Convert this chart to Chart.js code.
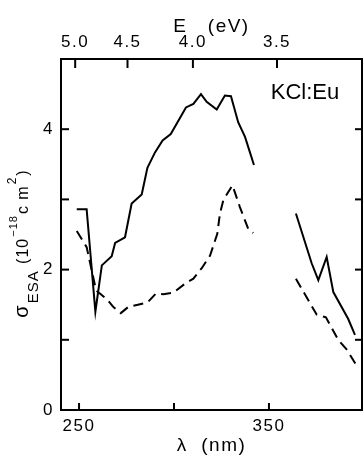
<!DOCTYPE html>
<html>
<head>
<meta charset="utf-8">
<script src="https://cdn.jsdelivr.net/npm/chart.js@4.4.0/dist/chart.umd.min.js"></script>
<style>
  html, body { margin: 0; padding: 0; background: #fff; }
  #wrap { width: 363px; height: 458px; }
</style>
</head>
<body>
<div id="wrap"><canvas id="esa" width="363" height="458"></canvas></div>
<script>
// Sigma_ESA spectra for KCl:Eu; both traces have a gap between ~342 and ~364 nm
const solidWlA = [248.8, 254, 258.6, 262, 267.2, 269, 274.2, 277.7, 283, 286, 290, 294, 298.3, 306.3, 310.2, 314.2, 317.2, 322.5, 326.8, 330, 333.8, 337.4, 340, 342.1];
const solidValA = [2.86, 2.86, 1.40, 2.06, 2.19, 2.38, 2.46, 2.94, 3.07, 3.45, 3.67, 3.84, 3.93, 4.31, 4.36, 4.50, 4.39, 4.28, 4.48, 4.47, 4.10, 3.89, 3.67, 3.49];
const solidWlB = [364.2, 372.5, 376, 380.4, 383.9, 391.7, 395.3];
const solidValB = [2.80, 2.09, 1.85, 2.18, 1.68, 1.30, 1.07];

const dashWlA = [248.8, 254, 259, 261, 265, 268, 272, 276, 281, 286, 290.5, 294.4, 299.6, 305.8, 310.2, 314.6, 319, 322.8, 324.2, 326, 328, 330.8, 334.7, 339.1, 341.7];
const dashValA = [2.55, 2.32, 1.70, 1.66, 1.57, 1.47, 1.38, 1.47, 1.50, 1.53, 1.66, 1.65, 1.67, 1.80, 1.87, 2.02, 2.20, 2.51, 2.80, 2.99, 3.08, 3.20, 2.89, 2.58, 2.52];
const dashWlB = [364.2, 375.1, 380, 386.5, 391, 396.2];
const dashValB = [1.87, 1.36, 1.32, 1.00, 0.86, 0.63];

// axis ticks
const lambdaTicks = [250, 300, 350];
const lambdaLabels = ['250', '', '350'];
const energyTicks = [5.0, 4.5, 4.0, 3.5];
const sigmaTicks = [0, 1, 2, 3, 4];
const sigmaLabels = ['0', '', '2', '', '4'];

const HC = 1239.84; // eV * nm
const FONT = "'Liberation Sans', Arial, sans-serif";

function pts(wl, val) {
    return wl.map((w, i) => ({ x: w, y: val[i] }));
}

function line(ctx, x1, y1, x2, y2) {
    ctx.beginPath();
    ctx.moveTo(x1, y1);
    ctx.lineTo(x2, y2);
    ctx.stroke();
}

// wider letter spacing for the axis text
const spacing = {
    id: 'spacing',
    beforeDraw(chart) {
        chart.ctx.letterSpacing = '1.5px';
    }
};

// tick marks pointing into the plot on all four sides
const inwardTicks = {
    id: 'inwardTicks',
    afterDraw(chart) {
        const ctx = chart.ctx;
        const a = chart.chartArea;
        const s = chart.scales;
        ctx.save();
        ctx.strokeStyle = '#000';
        ctx.lineWidth = 2;
        lambdaTicks.forEach(v => {
            const px = s.x.getPixelForValue(v);
            line(ctx, px, a.bottom, px, a.bottom - 7);
        });
        energyTicks.forEach(e => {
            const px = s.x2.getPixelForValue(HC / e);
            line(ctx, px, a.top, px, a.top + 9);
        });
        [1, 2, 3, 4].forEach(v => {
            const py = s.y.getPixelForValue(v);
            line(ctx, a.left, py, a.left + 8, py);
            line(ctx, a.right, py, a.right - 7, py);
        });
        ctx.restore();
    }
};

// rotated y title with subscript and superscripts
const sigmaTitle = {
    id: 'sigmaTitle',
    afterDraw(chart) {
        const ctx = chart.ctx;
        const parts = [
            { t: 'σ', size: 20, dy: 0 },
            { t: 'ESA', size: 15, dy: 10 },
            { t: ' (10', size: 16, dy: 0 },
            { t: '−18', size: 11, dy: -11 },
            { t: 'c m', size: 16, dy: 0 },
            { t: '2', size: 12, dy: -12 },
            { t: ')', size: 16, dy: 0 }
        ];
        ctx.save();
        ctx.fillStyle = '#000';
        ctx.letterSpacing = '1px';
        ctx.textBaseline = 'alphabetic';
        let total = 0;
        parts.forEach(p => {
            ctx.font = p.size + 'px ' + FONT;
            p.w = ctx.measureText(p.t).width + 1;
            total += p.w;
        });
        ctx.translate(28, 243);
        ctx.rotate(-Math.PI / 2);
        let x = -total / 2;
        parts.forEach(p => {
            ctx.font = p.size + 'px ' + FONT;
            ctx.fillText(p.t, x, p.dy);
            x += p.w;
        });
        ctx.restore();
    }
};

const sampleLabel = {
    id: 'sampleLabel',
    afterDraw(chart) {
        const ctx = chart.ctx;
        ctx.save();
        ctx.fillStyle = '#000';
        ctx.letterSpacing = '0px';
        ctx.font = '22px ' + FONT;
        ctx.textAlign = 'center';
        ctx.textBaseline = 'middle';
        ctx.fillText('KCl:Eu', 305, 93);
        ctx.restore();
    }
};

const solidStyle = { borderColor: '#000', borderWidth: 2, pointRadius: 0, tension: 0, fill: false };
const dashStyle = Object.assign({}, solidStyle, { borderDash: [10, 6] });

const tickFont = { family: FONT, size: 17 };
const frame = { display: true, color: '#000', width: 2 };

new Chart(document.getElementById('esa'), {
    type: 'line',
    data: {
        datasets: [
            Object.assign({ data: pts(solidWlA, solidValA) }, solidStyle),
            Object.assign({ data: pts(solidWlB, solidValB) }, solidStyle),
            Object.assign({ data: pts(dashWlA, dashValA) }, dashStyle),
            Object.assign({ data: pts(dashWlB, dashValB) }, dashStyle)
        ]
    },
    options: {
        responsive: false,
        animation: false,
        layout: { padding: 0 },
        plugins: { legend: { display: false }, tooltip: { enabled: false } },
        scales: {
            x: {
                type: 'linear', position: 'bottom', min: 240.5, max: 399,
                afterBuildTicks: s => { s.ticks = lambdaTicks.map(v => ({ value: v })); },
                afterFit: s => { s.height = 48; },
                ticks: {
                    color: '#000', font: tickFont, padding: 6, maxRotation: 0,
                    callback: (v) => lambdaLabels[lambdaTicks.indexOf(v)]
                },
                grid: { display: false, drawTicks: false },
                border: frame,
                title: {
                    display: true, text: 'λ  (nm)', color: '#000',
                    font: { family: FONT, size: 19 }, padding: { top: 0, bottom: 1 }
                }
            },
            x2: {
                type: 'linear', position: 'top', min: 240.5, max: 399,
                afterBuildTicks: s => { s.ticks = energyTicks.map(e => ({ value: HC / e })); },
                afterFit: s => { s.height = 59; },
                ticks: {
                    color: '#000', font: tickFont, padding: 6, maxRotation: 0,
                    callback: (v) => (HC / v).toFixed(1)
                },
                grid: { display: false, drawTicks: false },
                border: frame,
                title: {
                    display: true, text: 'E   (eV)', color: '#000',
                    font: { family: FONT, size: 19 }, padding: { top: 15, bottom: 0 }
                }
            },
            y: {
                type: 'linear', position: 'left', min: 0, max: 5,
                afterBuildTicks: s => { s.ticks = sigmaTicks.map(v => ({ value: v })); },
                afterFit: s => { s.width = 61; },
                ticks: {
                    color: '#000', font: tickFont, padding: 7,
                    callback: (v) => sigmaLabels[sigmaTicks.indexOf(v)]
                },
                grid: { display: false, drawTicks: false },
                border: frame
            },
            y2: {
                type: 'linear', position: 'right', min: 0, max: 5,
                afterFit: s => { s.width = 1; },
                ticks: { display: false },
                grid: { display: false, drawTicks: false },
                border: frame
            }
        }
    },
    plugins: [spacing, inwardTicks, sigmaTitle, sampleLabel]
});
</script>
</body>
</html>
